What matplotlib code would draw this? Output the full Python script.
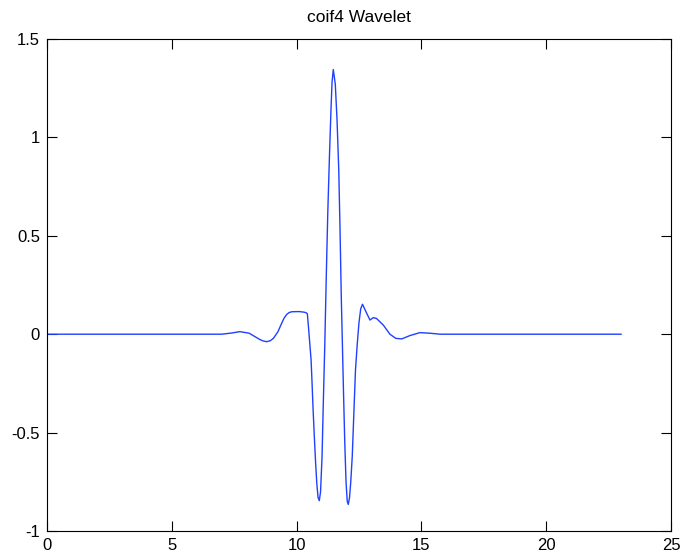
import numpy as np
import matplotlib.pyplot as plt

plt.rcParams["font.family"] = ["Liberation Sans", "DejaVu Sans"]

# coif4 wavelet function psi(x), support [0, 23]
x_vals = [
    0.0, 7.0, 7.4, 7.73, 8.1, 8.3, 8.5, 8.65, 8.8, 8.95, 9.07, 9.25, 9.4, 9.5,
    9.6, 9.7, 9.8, 10.1, 10.3, 10.38, 10.43,
    10.48, 10.53, 10.58, 10.62, 10.66, 10.71, 10.76, 10.81, 10.86, 10.91,
    10.96, 11.02, 11.07, 11.13, 11.19, 11.25, 11.32, 11.38, 11.42, 11.47,
    11.55, 11.62, 11.69, 11.74, 11.79, 11.84, 11.88, 11.93, 11.98, 12.03, 12.07,
    12.12, 12.17, 12.23, 12.30, 12.36, 12.43, 12.50, 12.57, 12.64,
    12.78, 12.94, 13.07, 13.20, 13.47, 13.74, 13.97, 14.21, 14.54, 14.94,
    15.34, 15.75, 23.0,
]
psi_vals = [
    0.0, 0.0, 0.006, 0.013, 0.005, -0.010, -0.025, -0.034, -0.038, -0.033, -0.021, 0.012, 0.055, 0.082,
    0.100, 0.110, 0.114, 0.115, 0.112, 0.109, 0.104,
    0.03, -0.05, -0.13, -0.25, -0.38, -0.52, -0.65, -0.76, -0.83, -0.846,
    -0.80, -0.62, -0.35, -0.05, 0.30, 0.62, 0.92, 1.15, 1.28, 1.345,
    1.27, 1.09, 0.83, 0.53, 0.19, -0.08, -0.30, -0.55, -0.75, -0.85, -0.865,
    -0.83, -0.75, -0.62, -0.38, -0.18, -0.05, 0.06, 0.13, 0.152,
    0.114, 0.072, 0.084, 0.080, 0.047, 0.0, -0.021, -0.024, -0.007, 0.008,
    0.005, 0.0, 0.0,
]

x_ticks = [0, 5, 10, 15, 20, 25]
y_ticks = [-1, -0.5, 0, 0.5, 1, 1.5]
y_labels = ["-1", "-0.5", "0", "0.5", "1", "1.5"]

fig = plt.figure(figsize=(6.83, 5.59), dpi=100)
ax = fig.add_axes([47 / 683, 28 / 559, 624 / 683, 492 / 559])

ax.plot(x_vals, psi_vals, color="#2040ff", linewidth=1.0)

ax.set_xlim(0, 25)
ax.set_ylim(-1, 1.5)
ax.set_xticks(x_ticks)
ax.set_yticks(y_ticks)
ax.set_yticklabels(y_labels)
ax.tick_params(direction="in", length=7, width=0.8, top=True, right=True,
               labelsize=12, pad=5)
for spine in ax.spines.values():
    spine.set_linewidth(0.8)

ax.set_title("coif4 Wavelet", fontsize=12.5, pad=12)

fig.savefig("out.png", dpi=100)
